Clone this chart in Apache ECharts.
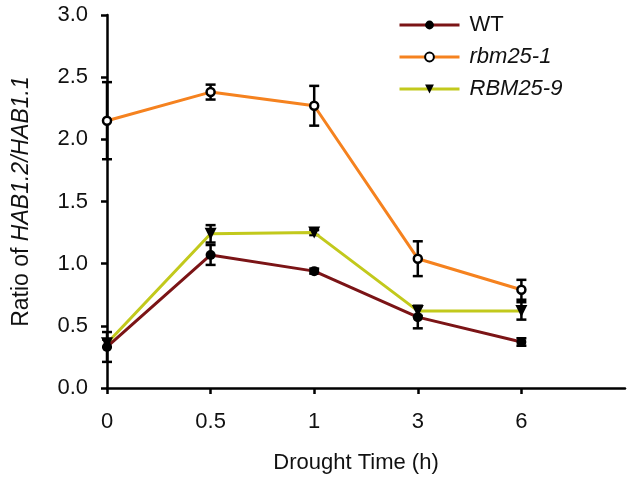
<!DOCTYPE html>
<html><head><meta charset="utf-8">
<script src="https://cdn.jsdelivr.net/npm/echarts@6/dist/echarts.min.js"></script>
<style>html,body{margin:0;padding:0;background:#fff}#c{width:634px;height:497px}</style>
</head><body><div id="c"></div>
<script>
var times = ['0', '0.5', '1', '3', '6'];
var yTicks = [0, 0.5, 1.0, 1.5, 2.0, 2.5, 3.0];
var seriesNames = ['WT', 'rbm25-1', 'RBM25-9'];
var wt = [0.33, 1.07, 0.94, 0.57, 0.37];
var wtErr = [0.12, 0.08, 0.02, 0.09, 0.03];
var rbm1 = [2.15, 2.38, 2.27, 1.04, 0.79];
var rbm1Err = [0.31, 0.06, 0.16, 0.14, 0.08];
var rbm9 = [0.36, 1.24, 1.25, 0.62, 0.62];
var rbm9Err = [0.03, 0.07, 0.02, 0.04, 0.07];

var FONT = 'Liberation Sans, Arial, sans-serif';
var chart = echarts.init(document.getElementById('c'), null, {renderer: 'canvas'});

function errData(vals, errs) {
  return vals.map(function (v, i) { return [i, v - errs[i], v + errs[i]]; });
}
function errSeries(vals, errs) {
  return {
    type: 'custom', z: 5, silent: true,
    data: errData(vals, errs),
    encode: {x: 0, y: [1, 2]},
    renderItem: function (params, api) {
      var x = api.value(0);
      var lo = api.coord([x, api.value(1)]);
      var hi = api.coord([x, api.value(2)]);
      var w = 5;
      var st = {stroke: '#000', lineWidth: 2.5};
      return {type: 'group', children: [
        {type: 'line', shape: {x1: lo[0], y1: lo[1], x2: hi[0], y2: hi[1]}, style: st},
        {type: 'line', shape: {x1: lo[0] - w, y1: lo[1], x2: lo[0] + w, y2: lo[1]}, style: st},
        {type: 'line', shape: {x1: hi[0] - w, y1: hi[1], x2: hi[0] + w, y2: hi[1]}, style: st}
      ]};
    }
  };
}

var option = {
  animation: false,
  backgroundColor: '#fff',
  textStyle: {fontFamily: FONT},
  grid: {left: 107, right: 9, top: 15, bottom: 109},
  legend: {
    orient: 'vertical', left: 393, top: 9,
    itemWidth: 60, itemHeight: 11, itemGap: 10,
    lineStyle: {width: 3},
    data: seriesNames,
    textStyle: {fontFamily: FONT, fontSize: 22, color: '#111', padding: [0, 0, 0, 5],
      rich: {i: {fontStyle: 'italic', fontSize: 22, fontFamily: FONT, color: '#111'}}},
    formatter: function (n) { return n === 'WT' ? n : '{i|' + n + '}'; }
  },
  xAxis: {
    type: 'category', boundaryGap: false,
    data: times.concat(['']),
    name: 'Drought Time (h)', nameLocation: 'middle', nameGap: 64,
    nameTextStyle: {fontFamily: FONT, fontSize: 22, color: '#111', padding: [0, 20, 0, 0]},
    axisLine: {lineStyle: {color: '#000', width: 2.5}},
    axisTick: {length: 6, lineStyle: {color: '#000', width: 2.5},
      interval: function (i) { return i < times.length; }},
    axisLabel: {fontFamily: FONT, fontSize: 22, color: '#111', margin: 23, interval: 0},
    splitLine: {show: false}
  },
  yAxis: {
    type: 'value', min: yTicks[0], max: yTicks[yTicks.length - 1], interval: 0.5,
    name: '{a|Ratio of }{b|HAB1.2/HAB1.1}', nameLocation: 'middle', nameRotate: 90, nameGap: 74,
    nameTextStyle: {fontFamily: FONT, fontSize: 23, color: '#111',
      rich: {a: {fontFamily: FONT, fontSize: 23, color: '#111'},
             b: {fontFamily: FONT, fontSize: 23, color: '#111', fontStyle: 'italic'}}},
    axisLine: {show: true, lineStyle: {color: '#000', width: 2.5}},
    axisTick: {show: true, length: 6, lineStyle: {color: '#000', width: 2.5}},
    axisLabel: {fontFamily: FONT, fontSize: 22, color: '#111', margin: 19,
      formatter: function (v) { return v.toFixed(1); }},
    splitLine: {show: false}
  },
  series: [
    {name: 'WT', type: 'line', data: wt, z: 6,
     lineStyle: {color: '#7b1416', width: 3},
     symbol: 'circle', symbolSize: 10, itemStyle: {color: '#000'}},
    {name: 'rbm25-1', type: 'line', data: rbm1, z: 6,
     lineStyle: {color: '#f5821f', width: 3},
     symbol: 'circle', symbolSize: 8, itemStyle: {color: '#fff', borderColor: '#000', borderWidth: 2.5}},
    {name: 'RBM25-9', type: 'line', data: rbm9, z: 6,
     lineStyle: {color: '#c2c91c', width: 3},
     symbol: 'triangle', symbolRotate: 180, symbolSize: 12, itemStyle: {color: '#000'}},
    errSeries(wt, wtErr),
    errSeries(rbm1, rbm1Err),
    errSeries(rbm9, rbm9Err)
  ]
};
chart.setOption(option);
</script>
</body></html>
